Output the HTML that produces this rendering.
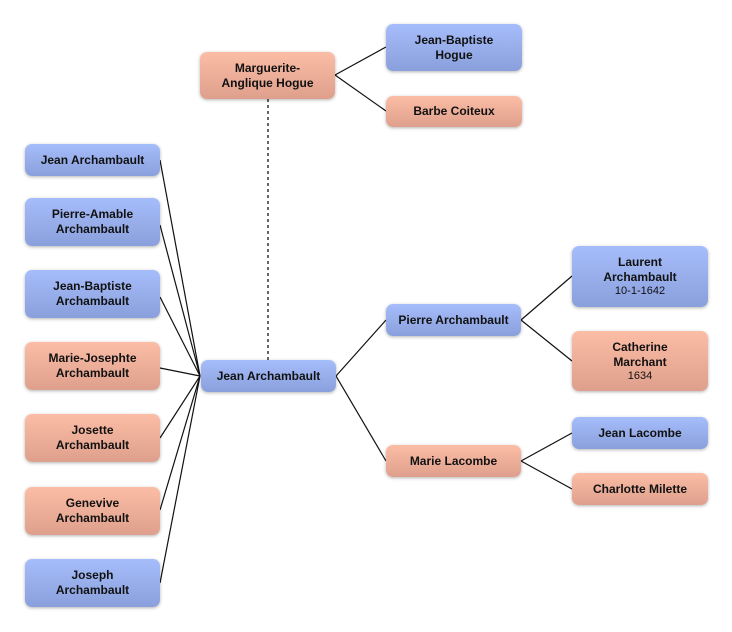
<!DOCTYPE html>
<html><head><meta charset="utf-8"><style>
body{margin:0;width:732px;height:632px;background:#fff;position:relative;overflow:hidden;font-family:"Liberation Sans",sans-serif}
.b{position:absolute;box-sizing:border-box;border-radius:7px;display:flex;flex-direction:column;align-items:center;justify-content:center;text-align:center;font-weight:bold;font-size:12px;line-height:15px;color:#111;box-shadow:0 1px 3px rgba(0,0,0,.3)}
.m{background:linear-gradient(#a6bdfb,#8aa0dc)}
.f{background:linear-gradient(#fcbda6,#dea08c)}
.s{font-weight:normal;font-size:11px;line-height:13px}
svg{position:absolute;left:0;top:0}
</style></head><body>
<svg width="732" height="632">
<g stroke="#111" stroke-width="1.2" fill="none">
<line x1="160" y1="160" x2="200" y2="376"/>
<line x1="160" y1="225" x2="200" y2="376"/>
<line x1="160" y1="297" x2="200" y2="376"/>
<line x1="160" y1="368" x2="200" y2="376"/>
<line x1="160" y1="438" x2="200" y2="376"/>
<line x1="160" y1="510" x2="200" y2="376"/>
<line x1="160" y1="583" x2="200" y2="376"/>
<line x1="336" y1="376" x2="386" y2="320"/>
<line x1="336" y1="376" x2="386" y2="461"/>
<line x1="521" y1="320" x2="572" y2="276"/>
<line x1="521" y1="320" x2="572" y2="361"/>
<line x1="521" y1="461" x2="572" y2="433"/>
<line x1="521" y1="461" x2="572" y2="489"/>
<line x1="335" y1="75" x2="386" y2="47"/>
<line x1="335" y1="75" x2="386" y2="111"/>
<line x1="268" y1="99" x2="268" y2="360" stroke="#666" stroke-width="2" stroke-dasharray="3,3"/>
</g></svg>
<div class="b f" style="left:200px;top:52px;width:135px;height:47px">Marguerite-<br>Anglique Hogue</div>
<div class="b m" style="left:386px;top:24px;width:136px;height:47px">Jean-Baptiste<br>Hogue</div>
<div class="b f" style="left:386px;top:96px;width:136px;height:31px">Barbe Coiteux</div>
<div class="b m" style="left:25px;top:144px;width:135px;height:32px">Jean Archambault</div>
<div class="b m" style="left:25px;top:198px;width:135px;height:48px">Pierre-Amable<br>Archambault</div>
<div class="b m" style="left:25px;top:270px;width:135px;height:48px">Jean-Baptiste<br>Archambault</div>
<div class="b f" style="left:25px;top:342px;width:135px;height:48px">Marie-Josephte<br>Archambault</div>
<div class="b f" style="left:25px;top:414px;width:135px;height:48px">Josette<br>Archambault</div>
<div class="b f" style="left:25px;top:487px;width:135px;height:48px">Genevive<br>Archambault</div>
<div class="b m" style="left:25px;top:559px;width:135px;height:48px">Joseph<br>Archambault</div>
<div class="b m" style="left:201px;top:360px;width:135px;height:32px">Jean Archambault</div>
<div class="b m" style="left:386px;top:304px;width:135px;height:32px">Pierre Archambault</div>
<div class="b f" style="left:386px;top:445px;width:135px;height:32px">Marie Lacombe</div>
<div class="b m" style="left:572px;top:246px;width:136px;height:61px">Laurent<br>Archambault<span class="s">10-1-1642</span></div>
<div class="b f" style="left:572px;top:331px;width:136px;height:60px">Catherine<br>Marchant<span class="s">1634</span></div>
<div class="b m" style="left:572px;top:417px;width:136px;height:32px">Jean Lacombe</div>
<div class="b f" style="left:572px;top:473px;width:136px;height:32px">Charlotte Milette</div>
</body></html>
